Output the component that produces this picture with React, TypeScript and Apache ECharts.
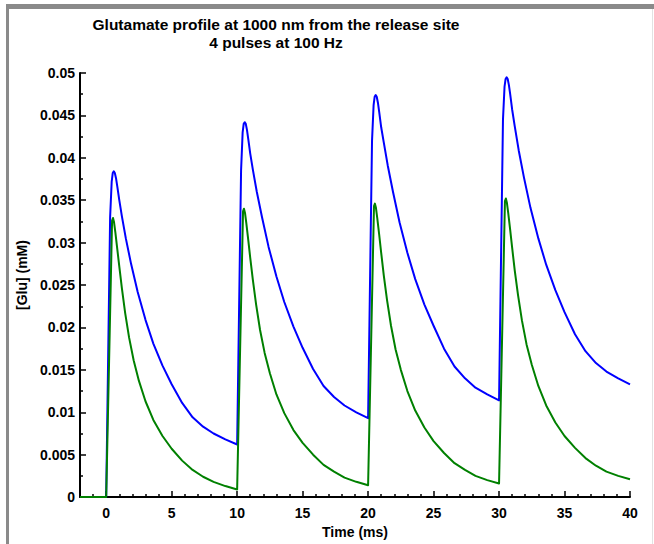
import React, { useEffect, useRef } from "react";
import * as echarts from "echarts";

const titleLines = ["Glutamate profile at 1000 nm from the release site", "4 pulses at 100 Hz"];
const xName = "Time (ms)";
const yName = "[Glu] (mM)";
const xMajorTicks = [0, 5, 10, 15, 20, 25, 30, 35, 40];
const xMinorTicks = [-1, 1, 2, 3, 4, 6, 7, 8, 9, 11, 12, 13, 14, 16, 17, 18, 19, 21, 22, 23, 24, 26, 27, 28, 29, 31, 32, 33, 34, 36, 37, 38, 39];

// Blue trace (upper), [time ms, mM]
const bluePulse1: number[][] = [
  [-2, 0], [0, 0], [0.3, 0.033], [0.42, 0.0372], [0.5, 0.0382], [0.58, 0.0384], [0.66, 0.0382], [0.75, 0.0376], [0.85, 0.0366],
  [1.0, 0.035], [1.2, 0.0331], [1.5, 0.0305], [1.9, 0.0275], [2.4, 0.0242], [3.0, 0.0209], [3.6, 0.0181], [4.3, 0.0155],
  [5.0, 0.0133], [5.8, 0.0111], [6.6, 0.0094], [7.4, 0.0083], [8.2, 0.0075], [9.1, 0.0068], [10, 0.0062],
];
const bluePulse2: number[][] = [
  [10.3, 0.0385], [10.42, 0.043], [10.5, 0.044], [10.58, 0.0442], [10.66, 0.044], [10.75, 0.0433], [10.85, 0.0422],
  [11.0, 0.0405], [11.2, 0.0386], [11.5, 0.036], [11.9, 0.033], [12.4, 0.0295], [13.0, 0.026], [13.6, 0.023], [14.3, 0.0201],
  [15.0, 0.0176], [15.8, 0.0151], [16.6, 0.0131], [17.4, 0.0118], [18.2, 0.0108], [19.1, 0.01], [20, 0.0093],
];
const bluePulse3: number[][] = [
  [20.3, 0.042], [20.42, 0.0462], [20.5, 0.0472], [20.58, 0.0474], [20.66, 0.0472], [20.75, 0.0465], [20.85, 0.0454],
  [21.0, 0.0436], [21.2, 0.0418], [21.5, 0.0391], [21.9, 0.036], [22.4, 0.0324], [23.0, 0.0288], [23.6, 0.0257], [24.3, 0.0227],
  [25.0, 0.0202], [25.8, 0.0175], [26.6, 0.0154], [27.4, 0.014], [28.2, 0.0129], [29.1, 0.0121], [30, 0.0114],
];
const bluePulse4: number[][] = [
  [30.3, 0.0445], [30.42, 0.0484], [30.5, 0.0493], [30.58, 0.0495], [30.66, 0.0493], [30.75, 0.0486], [30.85, 0.0475],
  [31.0, 0.0457], [31.2, 0.0437], [31.5, 0.0409], [31.9, 0.0377], [32.4, 0.0341], [33.0, 0.0305], [33.6, 0.0274], [34.3, 0.0244],
  [35.0, 0.0218], [35.8, 0.0192], [36.6, 0.0172], [37.4, 0.0158], [38.2, 0.0148], [39.1, 0.014], [40, 0.0133],
];

// Green trace (lower)
const greenPulse1: number[][] = [
  [-2, 0], [0, 0], [0.45, 0.0326], [0.52, 0.0329], [0.6, 0.0324], [0.7, 0.0312], [0.85, 0.0292], [1.0, 0.0272], [1.2, 0.0246],
  [1.45, 0.0217], [1.75, 0.0188], [2.1, 0.0161], [2.5, 0.0137], [3.0, 0.0113], [3.6, 0.0091], [4.3, 0.0072], [5.0, 0.0057],
  [5.8, 0.0043], [6.6, 0.0032], [7.4, 0.0024], [8.2, 0.0018], [9.1, 0.0013], [10, 0.0009],
];
const greenPulse2: number[][] = [
  [10.45, 0.0337], [10.52, 0.034], [10.6, 0.0335], [10.7, 0.0323], [10.85, 0.0303], [11.0, 0.0282], [11.2, 0.0256],
  [11.45, 0.0227], [11.75, 0.0197], [12.1, 0.017], [12.5, 0.0146], [13.0, 0.0121], [13.6, 0.0099], [14.3, 0.0079], [15.0, 0.0064],
  [15.8, 0.005], [16.6, 0.0038], [17.4, 0.003], [18.2, 0.0023], [19.1, 0.0018], [20, 0.0014],
];
const greenPulse3: number[][] = [
  [20.45, 0.0343], [20.52, 0.0346], [20.6, 0.0341], [20.7, 0.0329], [20.85, 0.0309], [21.0, 0.0288], [21.2, 0.0261],
  [21.45, 0.0232], [21.75, 0.0202], [22.1, 0.0174], [22.5, 0.015], [23.0, 0.0125], [23.6, 0.0102], [24.3, 0.0082], [25.0, 0.0066],
  [25.8, 0.0052], [26.6, 0.004], [27.4, 0.0032], [28.2, 0.0025], [29.1, 0.002], [30, 0.0016],
];
const greenPulse4: number[][] = [
  [30.45, 0.0349], [30.52, 0.0352], [30.6, 0.0347], [30.7, 0.0335], [30.85, 0.0315], [31.0, 0.0294], [31.2, 0.0267],
  [31.45, 0.0238], [31.75, 0.0208], [32.1, 0.018], [32.5, 0.0156], [33.0, 0.0131], [33.6, 0.0108], [34.3, 0.0088], [35.0, 0.0072],
  [35.8, 0.0058], [36.6, 0.0046], [37.4, 0.0037], [38.2, 0.003], [39.1, 0.0025], [40, 0.0021],
];

const FONT = "'Liberation Sans', Arial, Helvetica, sans-serif";

export default function App() {
  const ref = useRef<HTMLDivElement>(null);
  useEffect(() => {
    if (!ref.current) return;
    const chart = echarts.init(ref.current, null, { renderer: "svg" });
    const blue = [...bluePulse1, ...bluePulse2, ...bluePulse3, ...bluePulse4];
    const green = [...greenPulse1, ...greenPulse2, ...greenPulse3, ...greenPulse4];
    chart.setOption({
      animation: false,
      backgroundColor: "#ffffff",
      title: {
        text: titleLines.join("\n"),
        left: 271,
        top: 10,
        textAlign: "center",
        textStyle: { fontFamily: FONT, fontWeight: "bold", fontSize: 15.5, lineHeight: 18, color: "#000" },
      },
      graphic: [
        { type: "rect", shape: { x: 6, y: 4, width: 648, height: 5 }, style: { fill: "#8a8a8a" }, silent: true },
        { type: "rect", shape: { x: 6, y: 4, width: 3, height: 540 }, style: { fill: "#8a8a8a" }, silent: true },
        { type: "rect", shape: { x: 652, y: 9, width: 1, height: 535 }, style: { fill: "#e2e2e2" }, silent: true },
      ],
      grid: { left: 80, right: 24, top: 73, bottom: 45 },
      xAxis: [
        {
          type: "value",
          min: -2,
          max: 40,
          name: xName,
          nameLocation: "middle",
          nameGap: 18,
          nameTextStyle: { fontFamily: FONT, fontWeight: "bold", fontSize: 14, color: "#000" },
          axisLine: { show: true, onZero: false, lineStyle: { color: "#000", width: 2 } },
          axisTick: { show: true, inside: true, length: 6, customValues: xMajorTicks, lineStyle: { color: "#000", width: 1.5 } },
          axisLabel: { show: true, customValues: xMajorTicks, margin: 9, fontFamily: FONT, fontWeight: "bold", fontSize: 14, color: "#000" },
          splitLine: { show: false },
        },
        {
          type: "value",
          min: -2,
          max: 40,
          position: "bottom",
          axisLine: { show: false, onZero: false },
          axisTick: { show: true, inside: true, length: 3, customValues: xMinorTicks, lineStyle: { color: "#000", width: 1.5 } },
          axisLabel: { show: false },
          splitLine: { show: false },
        },
      ],
      yAxis: {
        type: "value",
        min: 0,
        max: 0.05,
        interval: 0.005,
        name: yName,
        nameLocation: "middle",
        nameRotate: 90,
        nameGap: 50,
        nameTextStyle: { fontFamily: FONT, fontWeight: "bold", fontSize: 14, color: "#000", padding: [0, 0, 0, 20] },
        axisLine: { show: true, onZero: false, lineStyle: { color: "#000", width: 2 } },
        axisTick: { show: true, inside: true, length: 6, lineStyle: { color: "#000", width: 1.5 } },
        minorTick: { show: true, splitNumber: 2, length: 3, lineStyle: { color: "#000", width: 1.5 } },
        axisLabel: {
          margin: 5,
          fontFamily: FONT,
          fontWeight: "bold",
          fontSize: 14,
          color: "#000",
          formatter: (v: number) => String(+v.toFixed(4)),
        },
        splitLine: { show: false },
      },
      series: [
        { type: "line", data: blue, showSymbol: false, symbol: "none", lineStyle: { color: "#0000ff", width: 2, join: "round" }, z: 2 },
        { type: "line", data: green, showSymbol: false, symbol: "none", lineStyle: { color: "#008000", width: 2, join: "round" }, z: 3 },
      ],
    });
    return () => chart.dispose();
  }, []);
  return <div ref={ref} style={{ position: "fixed", left: 0, top: 0, width: 654, height: 544 }} />;
}
